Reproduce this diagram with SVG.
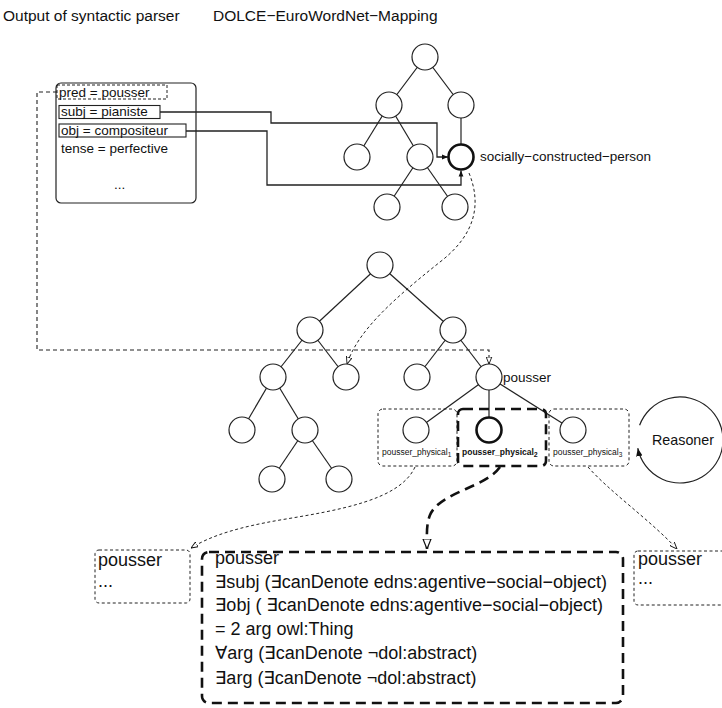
<svg xmlns="http://www.w3.org/2000/svg" width="722" height="708" viewBox="0 0 722 708">
<defs>
<style>
text{font-family:"Liberation Sans","DejaVu Sans",Arial,sans-serif;fill:#111}
.n{fill:#fff;stroke:#222;stroke-width:1.2}
.nb{fill:#fff;stroke:#111;stroke-width:2.6}
.e{stroke:#222;stroke-width:1.2;fill:none}
.c{stroke:#222;stroke-width:1.3;fill:none}
.dash{stroke:#222;stroke-width:1.1;fill:none;stroke-dasharray:4 3}
.dot{stroke:#222;stroke-width:1;fill:none;stroke-dasharray:3 2.5}
.bold{stroke:#111;stroke-width:2.6;fill:none;stroke-dasharray:10 6}
.t13{font-size:13.5px}
.t18{font-size:18px}
.sm{font-size:8.5px}
</style>
<marker id="af" viewBox="0 0 10 10" refX="10" refY="5" markerWidth="6" markerHeight="6" orient="auto" markerUnits="userSpaceOnUse"><path d="M0,1 L10,5 L0,9 z" fill="#111"/></marker>
<marker id="ao" viewBox="0 0 10 10" refX="10" refY="5" markerWidth="7" markerHeight="7" orient="auto" markerUnits="userSpaceOnUse"><path d="M0,1 L10,5 L0,9 z" fill="#fff" stroke="#111" stroke-width="1.3"/></marker>
<marker id="ab" viewBox="0 0 10 10" refX="10" refY="5" markerWidth="10" markerHeight="10" orient="auto" markerUnits="userSpaceOnUse"><path d="M0,1 L10,5 L0,9 z" fill="#fff" stroke="#111" stroke-width="1.2"/></marker>
<marker id="ar" viewBox="0 0 10 10" refX="10" refY="5" markerWidth="8" markerHeight="8" orient="auto" markerUnits="userSpaceOnUse"><path d="M0,1 L10,5 L0,9 z" fill="#111"/></marker>
</defs>

<g id="titles">
<text x="3" y="21" style="font-size:15.5px">Output of syntactic parser</text>
<text x="213" y="21" style="font-size:15.5px">DOLCE−EuroWordNet−Mapping</text>
</g>

<g id="edges">
<line class="e" x1="425" y1="57" x2="389" y2="105"/>
<line class="e" x1="425" y1="57" x2="461" y2="105"/>
<line class="e" x1="389" y1="105" x2="357" y2="157"/>
<line class="e" x1="389" y1="105" x2="420" y2="157"/>
<line class="e" x1="461" y1="105" x2="461" y2="157"/>
<line class="e" x1="420" y1="157" x2="387" y2="207"/>
<line class="e" x1="420" y1="157" x2="455" y2="207"/>
<line class="e" x1="380" y1="265" x2="310" y2="330"/>
<line class="e" x1="380" y1="265" x2="453" y2="330"/>
<line class="e" x1="310" y1="330" x2="273" y2="377"/>
<line class="e" x1="310" y1="330" x2="346" y2="377"/>
<line class="e" x1="453" y1="330" x2="417" y2="377"/>
<line class="e" x1="453" y1="330" x2="489" y2="377"/>
<line class="e" x1="273" y1="377" x2="242" y2="430"/>
<line class="e" x1="273" y1="377" x2="305" y2="430"/>
<line class="e" x1="305" y1="430" x2="272" y2="479"/>
<line class="e" x1="305" y1="430" x2="339" y2="479"/>
<line class="e" x1="489" y1="377" x2="416" y2="430"/>
<line class="e" x1="489" y1="377" x2="489" y2="430"/>
<line class="e" x1="489" y1="377" x2="573" y2="430"/>
</g>

<g id="parser">
<rect x="56" y="83" width="140" height="120" rx="5" fill="none" stroke="#222" stroke-width="1.2"/>
<rect x="57" y="85" width="110" height="14" fill="none" stroke="#222" stroke-width="1" stroke-dasharray="3 2"/>
<text class="t13" x="59" y="96.5">pred = pousser</text>
<rect x="59" y="105.5" width="101" height="13" fill="none" stroke="#222" stroke-width="1.1"/>
<text class="t13" x="61" y="116">subj = pianiste</text>
<rect x="59" y="124" width="127" height="13" fill="none" stroke="#222" stroke-width="1.1"/>
<text class="t13" x="61" y="134.5">obj = compositeur</text>
<text class="t13" x="61" y="152.5">tense = perfective</text>
<text class="t13" x="114" y="189">...</text>
</g>

<g id="dolce-tree">
<circle class="n" cx="425" cy="57" r="13"/>
<circle class="n" cx="389" cy="105" r="13"/>
<circle class="n" cx="461" cy="105" r="13"/>
<circle class="n" cx="357" cy="157" r="13"/>
<circle class="n" cx="420" cy="157" r="13"/>
<circle class="n" cx="387" cy="207" r="13"/>
<circle class="n" cx="455" cy="207" r="13"/>
</g>
<g id="socially-constructed-person">
<circle class="nb" cx="461" cy="157" r="12.5"/>
<text class="t13" x="480" y="161">socially−constructed−person</text>
</g>

<g id="ewn-tree">
<circle class="n" cx="380" cy="265" r="13"/>
<circle class="n" cx="310" cy="330" r="13"/>
<circle class="n" cx="453" cy="330" r="13"/>
<circle class="n" cx="273" cy="377" r="13"/>
<circle class="n" cx="346" cy="377" r="13"/>
<circle class="n" cx="417" cy="377" r="13"/>
<circle class="n" cx="242" cy="430" r="13"/>
<circle class="n" cx="305" cy="430" r="13"/>
<circle class="n" cx="272" cy="479" r="13"/>
<circle class="n" cx="339" cy="479" r="13"/>
</g>
<g id="pousser">
<circle class="n" cx="489" cy="377" r="13"/>
<text class="t13" x="503" y="382">pousser</text>
</g>

<g id="pousser_physical1">
<rect class="dot" x="378" y="409" width="79" height="57" rx="5"/>
<circle class="n" cx="416" cy="430" r="13"/>
<text class="sm" x="382" y="455">pousser_physical<tspan font-size="6.5" dy="2">1</tspan></text>
</g>
<g id="pousser_physical2">
<rect class="bold" x="458" y="409" width="88" height="57" rx="5"/>
<circle class="nb" cx="489" cy="430" r="12.5"/>
<text class="sm" x="462" y="455" font-weight="bold">pousser_physical<tspan font-size="7" dy="2">2</tspan></text>
</g>
<g id="pousser_physical3">
<rect class="dot" x="549" y="409" width="80" height="57" rx="5"/>
<circle class="n" cx="573" cy="430" r="13"/>
<text class="sm" x="553" y="455">pousser_physical<tspan font-size="6.5" dy="2">3</tspan></text>
</g>

<g id="reasoner">
<path d="M639.6,425.3 A43,43 0 1 1 637.8,448.2" fill="none" stroke="#222" stroke-width="1.2" marker-end="url(#ar)"/>
<text x="652" y="445" style="font-size:14.3px">Reasoner</text>
</g>

<g id="box-left">
<rect class="dot" x="95" y="550" width="95" height="53" rx="4"/>
<text class="t18" x="98" y="566">pousser</text>
<text class="t18" x="98" y="587">...</text>
</g>

<g id="box-main">
<rect class="bold" x="202" y="552" width="421" height="151" rx="7"/>
<text class="t18" x="215" y="564">pousser</text>
<text class="t18" x="215" y="588">∃subj (∃canDenote edns:agentive−social−object)</text>
<text class="t18" x="215" y="611">∃obj ( ∃canDenote edns:agentive−social−object)</text>
<text class="t18" x="215" y="635">= 2 arg owl:Thing</text>
<text class="t18" x="215" y="659">∀arg (∃canDenote ¬dol:abstract)</text>
<text class="t18" x="215" y="684">∃arg (∃canDenote ¬dol:abstract)</text>
</g>

<g id="box-right">
<rect class="dot" x="634" y="551" width="100" height="54" rx="4"/>
<text class="t18" x="638" y="565">pousser</text>
<text class="t18" x="638" y="584">...</text>
</g>

<g id="connectors">
<path class="c" d="M160,112 H271 V123 H437 V157 H448" marker-end="url(#af)"/>
<path class="c" d="M186,131 H267 V185 H461 V170.5" marker-end="url(#af)"/>
<path class="dash" d="M57,92 H37 V350 H489 V364" marker-end="url(#ao)"/>
<path class="dot" d="M469,173 C482,205 475,235 440,262 C395,298 358,330 347,364" marker-end="url(#ao)"/>
<path class="dot" d="M415,467 C400,500 340,510 280,520 C240,527 212,535 191,548" marker-end="url(#ao)"/>
<path class="bold" d="M500,467 C485,488 440,492 430,515 C426,525 427,535 427,549" marker-end="url(#ab)"/>
<path class="dot" d="M588,467 C610,492 650,520 677,549" marker-end="url(#ao)"/>
</g>
</svg>
